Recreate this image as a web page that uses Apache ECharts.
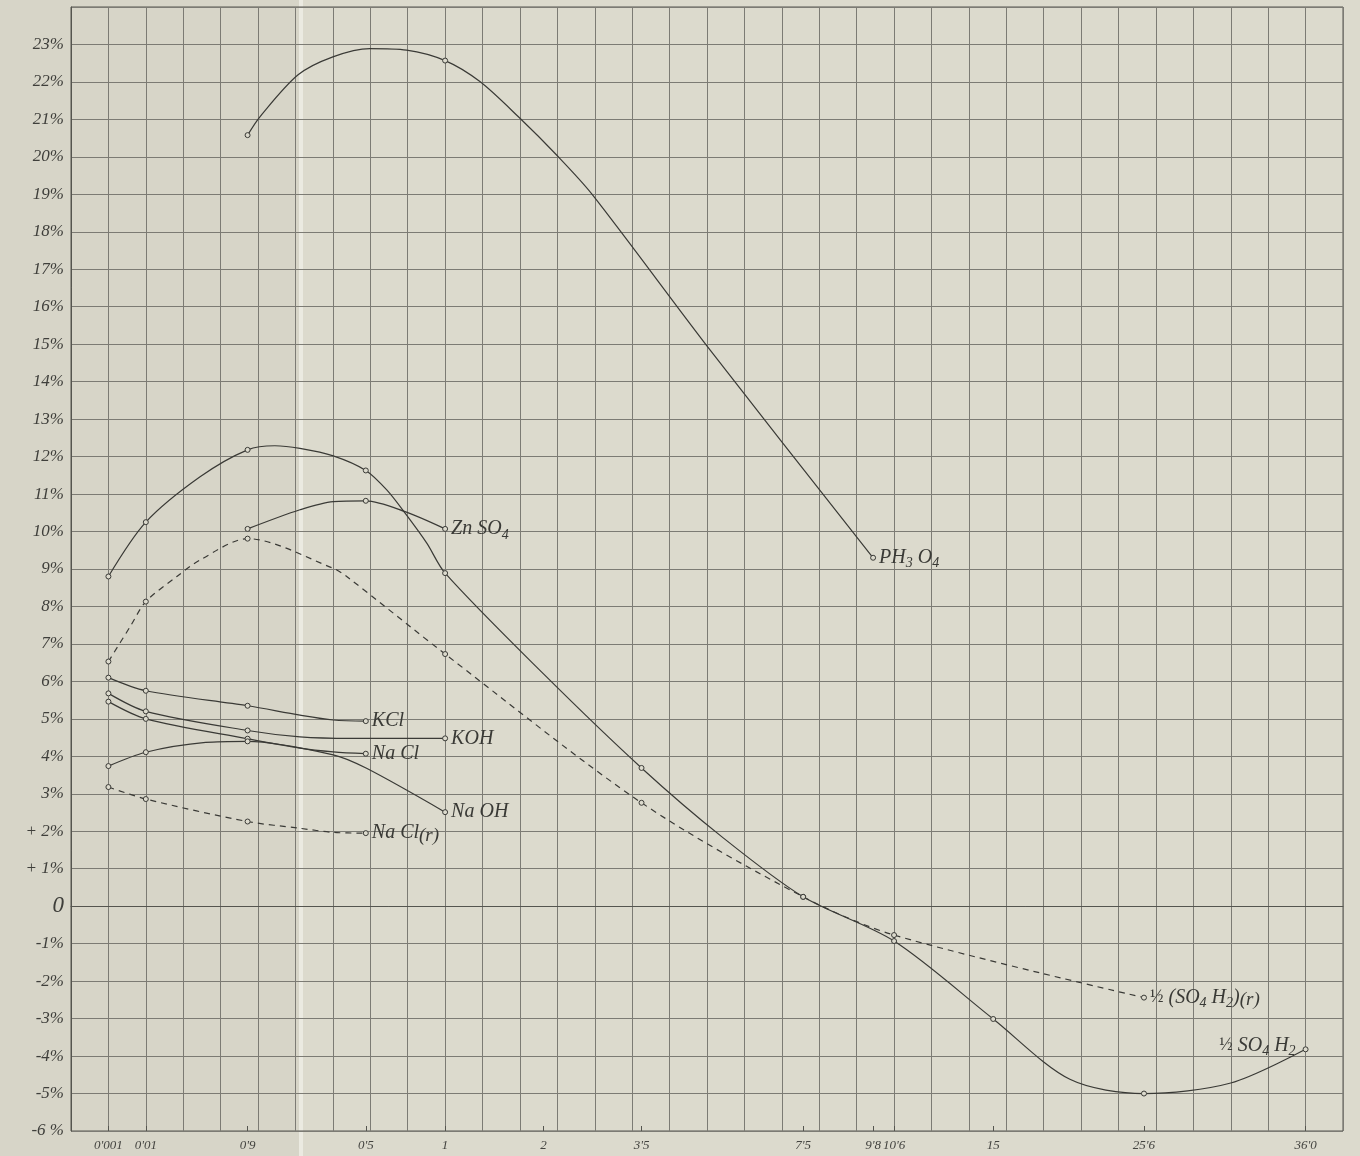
<!DOCTYPE html>
<html>
<head>
<meta charset="utf-8">
<script src="https://cdn.jsdelivr.net/npm/echarts@6/dist/echarts.min.js"></script>
<style>
  html, body { margin: 0; padding: 0; background: #dcdacd; }
  #chart { width: 1360px; height: 1156px; }
</style>
</head>
<body>
<div id="chart"></div>
<script>
// ---- X axis: tick positions (in grid cells) and their labels ----
const xTickPos    = [1, 2, 4.72, 7.88, 10, 12.63, 15.25, 19.57, 21.44, 22, 24.65, 28.68, 33];
const xTickLabels = ["0'001", "0'01", "0'9", "0'5", "1", "2", "3'5", "7'5", "9'8", "10'6", "15", "25'6", "36'0"];

// ---- Y axis tick labels ----
const yTickValues = [-6, -5, -4, -3, -2, -1, 0, 1, 2, 3, 4, 5, 6, 7, 8, 9, 10, 11, 12, 13, 14, 15, 16, 17, 18, 19, 20, 21, 22, 23];
const yTickLabels = ['-6 %', '-5%', '-4%', '-3%', '-2%', '-1%', '0', '+ 1%', '+ 2%', '3%', '4%', '5%', '6%', '7%', '8%', '9%', '10%', '11%', '12%', '13%', '14%', '15%', '16%', '17%', '18%', '19%', '20%', '21%', '22%', '23%'];

// ---- Measured points (x = axis position, y = %), drawn with circles ----
const ph3o4X = [4.72, 10, 21.44];
const ph3o4Y = [20.58, 22.57, 9.30];
const so4h2X = [1, 2, 4.72, 7.88, 10, 15.25, 19.57, 22, 24.65, 28.68, 33];
const so4h2Y = [8.80, 10.25, 12.18, 11.63, 8.89, 3.69, 0.25, -0.93, -3.01, -5.00, -3.82];
const so4h2rX = [1, 2, 4.72, 10, 15.25, 19.57, 22, 28.68];
const so4h2rY = [6.53, 8.13, 9.81, 6.73, 2.76, 0.25, -0.77, -2.44];
const znso4X = [4.72, 7.88, 10];
const znso4Y = [10.07, 10.82, 10.07];
const kclX = [1, 2, 4.72, 7.88];
const kclY = [6.10, 5.75, 5.35, 4.94];
const kohX = [1, 2, 4.72, 10];
const kohY = [5.68, 5.20, 4.69, 4.48];
const naclX = [1, 2, 4.72, 7.88];
const naclY = [5.46, 5.00, 4.47, 4.07];
const naohX = [1, 2, 4.72, 10];
const naohY = [3.74, 4.11, 4.40, 2.51];
const naclrX = [1, 2, 4.72, 7.88];
const naclrY = [3.18, 2.86, 2.26, 1.95];

// ---- Extra positions (no circle) ----
const ph3o4CurveX = [5.05, 6.07, 7.0, 7.99, 8.97, 10.93, 12.0, 12.98, 13.93, 17.08];
const ph3o4CurveY = [21.07, 22.19, 22.67, 22.89, 22.85, 22.01, 21.03, 20.05, 19.0, 14.85];
const so4h2CurveX = [3.45, 5.45, 6.12, 7.01, 8.44, 8.93, 9.51, 12.63, 17.4, 26.7, 31.0];
const so4h2CurveY = [11.46, 12.29, 12.22, 12.02, 11.11, 10.49, 9.69, 6.2, 1.85, -4.62, -4.72];
const so4h2rCurveX = [1.58, 2.83, 3.45, 7.01, 7.37];
const so4h2rCurveY = [7.46, 8.80, 9.24, 9.02, 8.80];
const znso4CurveX = [6.12, 7.01, 8.93];
const znso4CurveY = [10.58, 10.80, 10.53];
const kclCurveX = [6.12, 7.01];
const kclCurveY = [5.10, 4.97];
const kohCurveX = [6.12, 7.5];
const kohCurveY = [4.52, 4.48];
const naclCurveX = [6.12, 7.01];
const naclCurveY = [4.22, 4.12];
const naohCurveX = [3.6, 7.01, 7.9];
const naohCurveY = [4.37, 4.04, 3.68];
const naclrCurveX = [6.12, 7.01];
const naclrCurveY = [2.08, 1.97];

// ---- styling ----
const BG = '#dcdacd';
const INK = '#3a3a36';
const GRID = '#7c7b74';
const SERIF = '"Liberation Serif", "DejaVu Serif", serif';

const rich = {
  m: { fontFamily: SERIF, fontStyle: 'italic', fontSize: 20, lineHeight: 30, color: INK, verticalAlign: 'middle' },
  s: { fontFamily: SERIF, fontStyle: 'italic', fontSize: 14, lineHeight: 30, color: INK, verticalAlign: 'bottom', padding: [0, 0, 2, 0] },
  h: { fontFamily: SERIF, fontSize: 18, lineHeight: 30, color: INK, verticalAlign: 'middle' },
  r: { fontFamily: SERIF, fontStyle: 'italic', fontSize: 19, lineHeight: 30, color: INK, verticalAlign: 'middle', padding: [5, 0, 0, 0] }
};

function makeSeries(name, xs, ys, cx, cy, dashed, labelText, labelPos, labelOffset) {
  const pts = [];
  xs.forEach((x, i) => pts.push({ x: x, y: ys[i], m: true, last: i === xs.length - 1 }));
  cx.forEach((x, i) => pts.push({ x: x, y: cy[i], m: false, last: false }));
  pts.sort((a, b) => a.x - b.x);
  const data = pts.map(p => {
    const item = { value: [p.x, p.y] };
    if (!p.m) item.symbol = 'none';
    if (p.last) {
      item.label = {
        show: true,
        position: labelPos || 'right',
        distance: 3,
        offset: labelOffset || [0, 0],
        formatter: labelText,
        rich: rich
      };
    }
    return item;
  });
  return {
    name: name,
    type: 'line',
    smooth: 0.3,
    data: data,
    symbol: 'circle',
    symbolSize: 5,
    showAllSymbol: true,
    itemStyle: { color: BG, borderColor: INK, borderWidth: 1 },
    lineStyle: { color: INK, width: 1.2, type: dashed ? [6, 5] : 'solid' },
    emphasis: { disabled: true },
    z: 5
  };
}

const chart = echarts.init(document.getElementById('chart'), null, { renderer: 'canvas' });

const option = {
  backgroundColor: BG,
  animation: false,
  graphic: [
    { type: 'rect', z: -10, shape: { x: 0, y: 0, width: 299, height: 1156 }, style: { fill: '#d7d5c8' }, silent: true },
    { type: 'rect', z: -10, shape: { x: 299, y: 0, width: 4, height: 1156 }, style: { fill: '#ebeae1' }, silent: true }
  ],
  grid: { left: 71, right: 17, top: 7, bottom: 25, show: true, borderColor: '#55554f', borderWidth: 1, backgroundColor: 'transparent' },
  xAxis: [
    {
      type: 'value',
      min: 0, max: 34, interval: 1,
      position: 'bottom',
      axisLine: { show: true, lineStyle: { color: '#55554f', width: 1 } },
      axisTick: { show: false },
      axisLabel: { show: false },
      splitLine: { show: true, lineStyle: { color: GRID, width: 1 } }
    },
    {
      type: 'value',
      min: 0, max: 34,
      position: 'bottom',
      offset: 0,
      axisLine: { show: false },
      axisTick: { show: true, inside: true, length: 5, customValues: xTickPos, lineStyle: { color: '#55554f' } },
      axisLabel: {
        customValues: xTickPos,
        margin: 8,
        fontFamily: SERIF, fontStyle: 'italic', fontSize: 13, color: '#444440',
        formatter: function (v) {
          const i = xTickPos.findIndex(p => Math.abs(p - v) < 1e-6);
          return i >= 0 ? xTickLabels[i] : '';
        }
      },
      splitLine: { show: false }
    }
  ],
  yAxis: {
    type: 'value',
    min: -6, max: 24, interval: 1,
    axisLine: { show: true, lineStyle: { color: '#55554f', width: 1 } },
    axisTick: { show: false },
    axisLabel: {
      margin: 7,
      fontFamily: SERIF, fontStyle: 'italic', fontSize: 17, color: '#3f3f3b',
      formatter: function (v) {
        const i = yTickValues.indexOf(Math.round(v));
        if (i < 0) return '';
        if (yTickLabels[i] === '0') return '{z|0}';
        return yTickLabels[i];
      },
      rich: { z: { fontFamily: SERIF, fontStyle: 'italic', fontSize: 23, color: '#3f3f3b' } }
    },
    splitLine: { show: true, lineStyle: { color: GRID, width: 1 } }
  },
  series: [
    makeSeries('PH3O4', ph3o4X, ph3o4Y, ph3o4CurveX, ph3o4CurveY, false, '{m|PH}{s|3}{m| O}{s|4}'),
    makeSeries('1/2 SO4H2', so4h2X, so4h2Y, so4h2CurveX, so4h2CurveY, false, '{h|½}{m| SO}{s|4}{m| H}{s|2}', 'left', [-4, -4]),
    makeSeries('1/2 (SO4H2)(r)', so4h2rX, so4h2rY, so4h2rCurveX, so4h2rCurveY, true, '{h|½}{m| (SO}{s|4}{m| H}{s|2}{m|)}{r|(r)}'),
    makeSeries('ZnSO4', znso4X, znso4Y, znso4CurveX, znso4CurveY, false, '{m|Zn SO}{s|4}'),
    makeSeries('KCl', kclX, kclY, kclCurveX, kclCurveY, false, '{m|KCl}'),
    makeSeries('KOH', kohX, kohY, kohCurveX, kohCurveY, false, '{m|KOH}'),
    makeSeries('NaCl', naclX, naclY, naclCurveX, naclCurveY, false, '{m|Na Cl}'),
    makeSeries('NaOH', naohX, naohY, naohCurveX, naohCurveY, false, '{m|Na OH}'),
    makeSeries('NaCl(r)', naclrX, naclrY, naclrCurveX, naclrCurveY, true, '{m|Na Cl}{r|(r)}')
  ]
};

chart.setOption(option);
</script>
</body>
</html>
